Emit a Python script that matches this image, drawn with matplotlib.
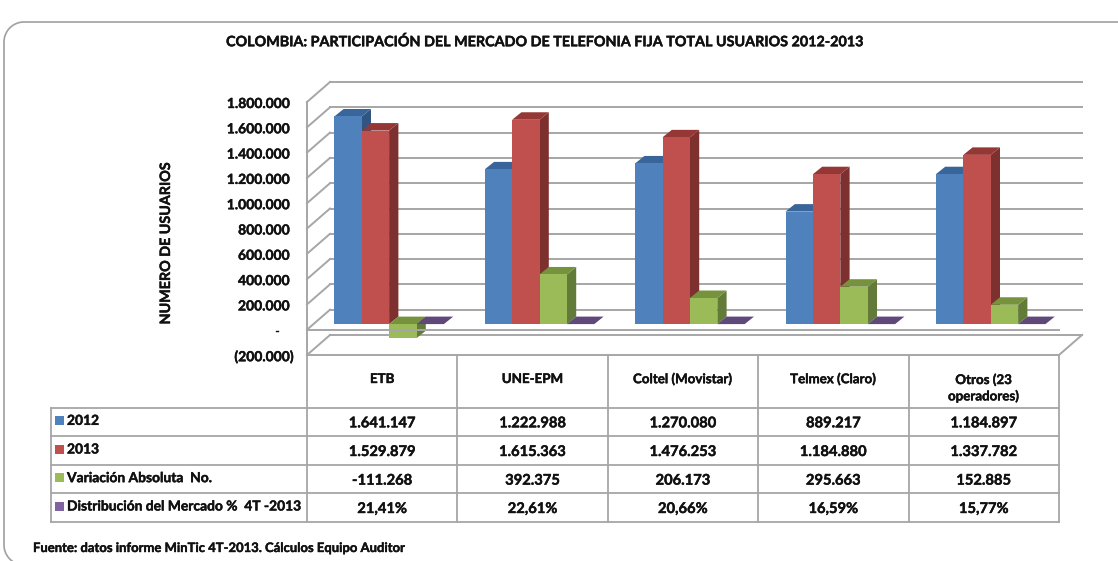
import matplotlib
matplotlib.use('Agg')
import matplotlib.pyplot as plt
import matplotlib.patheffects as pe
from matplotlib.patches import Polygon, Rectangle
import numpy as np

plt.rcParams['font.family'] = ['Lato', 'DejaVu Sans']

# datos
categorias = ['ETB', 'UNE-EPM', 'Coltel (Movistar)', 'Telmex (Claro)', 'Otros (23\noperadores)']
series = ['2012', '2013', 'Variación Absoluta  No.', 'Distribución del Mercado %  4T -2013']
v2012 = [1641147, 1222988, 1270080, 889217, 1184897]
v2013 = [1529879, 1615363, 1476253, 1184880, 1337782]
variacion = [-111268, 392375, 206173, 295663, 152885]
distribucion = [21.41, 22.61, 20.66, 16.59, 15.77]
ticks = [-200000, 0, 200000, 400000, 600000, 800000, 1000000, 1200000, 1400000, 1600000, 1800000]
tick_labels = ['(200.000)', '-', '200.000', '400.000', '600.000', '800.000', '1.000.000',
               '1.200.000', '1.400.000', '1.600.000', '1.800.000']

# colores: frente, lado, arriba
colores = [('#4F81BD', '#2F5580', '#3A659B'),
           ('#C0504D', '#7D302E', '#953735'),
           ('#9BBB59', '#637B38', '#76923C'),
           ('#8064A2', '#5F497A', '#5F497A')]
gris = '#a6a6a6'
negro = '#111111'
# Lato bold queda delgado, se engrosa un poco
grueso = [pe.withStroke(linewidth=0.3, foreground=negro)]

W, H = 1118, 561
fig = plt.figure(figsize=(W / 100, H / 100), dpi=100)

# capa en pixeles para marco y tabla
bg = fig.add_axes([0, 0, 1, 1])
bg.set_xlim(0, W)
bg.set_ylim(H, 0)
bg.axis('off')

# plano frontal del grafico
x0, x1 = 307, 1059
y_top, y_bot = 102, 355
ax = fig.add_axes([x0 / W, 1 - y_bot / H, (x1 - x0) / W, (y_bot - y_top) / H])
ax.set_xlim(0, 5)
ax.set_ylim(-200000, 1800000)
ax.axis('off')

px_x = 5 / (x1 - x0)
px_y = 2000000 / (y_bot - y_top)


def ux(p):
    return p * px_x


def uy(p):
    return p * px_y


# pared del fondo
DX, DY = ux(23), uy(20)
for t in ticks:
    if t != -200000:
        ax.plot([0, DX], [t, t + DY], color=gris, lw=1.4, clip_on=False, zorder=1)
    ax.plot([DX, 5 + DX], [t + DY, t + DY], color=gris, lw=1.4, clip_on=False, zorder=1)
ax.plot([0, 0], [-200000, 1800000], color=gris, lw=1.4, clip_on=False, zorder=1)
ax.plot([0, DX], [-200000, -200000 + DY], color=gris, lw=1.4, clip_on=False, zorder=1)
ax.plot([5, 5 + DX], [-200000, -200000 + DY], color=gris, lw=1.4, clip_on=False, zorder=1)
ax.plot([0, 5], [-200000, -200000], color=gris, lw=1.4, clip_on=False, zorder=1)

# barras 3D
bar_w = ux(27.4)
start = ux(27.3)
base = uy(5.6)
dep_x, dep_y = ux(9.3), uy(7.5)
valores = [v2012, v2013, variacion, distribucion]
z = 2
for i in range(len(categorias)):
    for s, vals in enumerate(valores):
        v = vals[i]
        left = i + start + s * bar_w
        right = left + bar_w
        hi = max(v, 0) + base
        lo = min(v, 0) + base
        front, side, top = colores[s]
        ax.add_patch(Polygon([(right, lo), (right + dep_x, lo + dep_y), (right + dep_x, hi + dep_y), (right, hi)],
                             fc=side, ec='none', clip_on=False, zorder=z))
        ax.add_patch(Polygon([(left, hi), (left + dep_x, hi + dep_y), (right + dep_x, hi + dep_y), (right, hi)],
                             fc=top, ec='none', clip_on=False, zorder=z))
        ax.add_patch(Rectangle((left, lo), bar_w, hi - lo, fc=front, ec='none', clip_on=False, zorder=z + 0.5))
        z += 1

# linea del cero al frente
ax.plot([0, 5], [0, 0], color=gris, lw=1.4, clip_on=False, zorder=z)

# etiquetas del eje y
for t, lab in zip(ticks, tick_labels):
    off = -13 if t == -200000 else (-27 if t == 0 else -17)
    ax.annotate(lab, (0, t), xytext=(off, -2), textcoords='offset pixels', ha='right', va='center',
                fontsize=10, fontweight='bold', color=negro, annotation_clip=False, path_effects=grueso)

# marco: esquinas redondeadas, solo arriba e izquierda quedan dentro
r_marco = 20
ang = np.linspace(np.pi, 1.5 * np.pi, 20)
esq_x = 4 + r_marco + r_marco * np.cos(ang)
esq_y = 22 + r_marco + r_marco * np.sin(ang)
ang2 = np.linspace(np.pi, 0.6 * np.pi, 12)
abajo_x = 4 + r_marco + r_marco * np.cos(ang2)
abajo_y = 545 + r_marco * np.sin(ang2 - np.pi) * -1
marco_x = np.concatenate([abajo_x[::-1], esq_x, [W]])
marco_y = np.concatenate([abajo_y[::-1], esq_y, [22]])
bg.plot(marco_x, marco_y, color='#a0a0a0', lw=1.2)

# tabla
filas = [407.7, 436, 465, 493.3, 521.7]
cols = [307 + k * 150.4 for k in range(6)]
for x in cols:
    bg.plot([x, x], [355, filas[-1]], color=gris, lw=1.3)
bg.plot([50.7, 50.7], [filas[0], filas[-1]], color=gris, lw=1.3)
for y in filas:
    bg.plot([50.7, cols[-1]], [y, y], color=gris, lw=1.3)

for k, c in enumerate(categorias):
    xc = (cols[k] + cols[k + 1]) / 2
    yc = 379 if '\n' not in c else 388
    bg.text(xc, yc, c, ha='center', va='center', fontsize=9.6, fontweight='bold', color=negro,
            linespacing=1.35, path_effects=grueso)


def miles(v):
    return f'{v:,}'.replace(',', '.')


def pct(v):
    return f'{v:.2f}%'.replace('.', ',')


textos = [[miles(v) for v in v2012], [miles(v) for v in v2013],
          [miles(v) for v in variacion], [pct(v) for v in distribucion]]
for r in range(4):
    yc = (filas[r] + filas[r + 1]) / 2
    bg.add_patch(Rectangle((55, yc - 6), 9, 9, fc=colores[r][0], ec='none'))
    bg.text(67, yc - 1, series[r], ha='left', va='center', fontsize=9.95, fontweight='bold', color=negro,
            path_effects=grueso)
    for k in range(5):
        bg.text((cols[k] + cols[k + 1]) / 2, yc + 1.5, textos[r][k], ha='center', va='center',
                fontsize=10.6, fontweight='bold', color=negro, path_effects=grueso)

# textos
bg.text(544.5, 42, 'COLOMBIA: PARTICIPACIÓN DEL MERCADO DE TELEFONIA FIJA TOTAL USUARIOS 2012-2013',
        ha='center', va='center', fontsize=10.33, fontweight='bold', color=negro, path_effects=grueso)
bg.text(166, 244, 'NUMERO DE USUARIOS', rotation=90, ha='center', va='center',
        fontsize=10.3, fontweight='bold', color=negro, path_effects=grueso)
bg.text(33, 548, 'Fuente: datos informe MinTic 4T-2013. Cálculos Equipo Auditor',
        ha='left', va='center', fontsize=9.4, fontweight='bold', color=negro, path_effects=grueso)

fig.savefig('out.png', dpi=100)
